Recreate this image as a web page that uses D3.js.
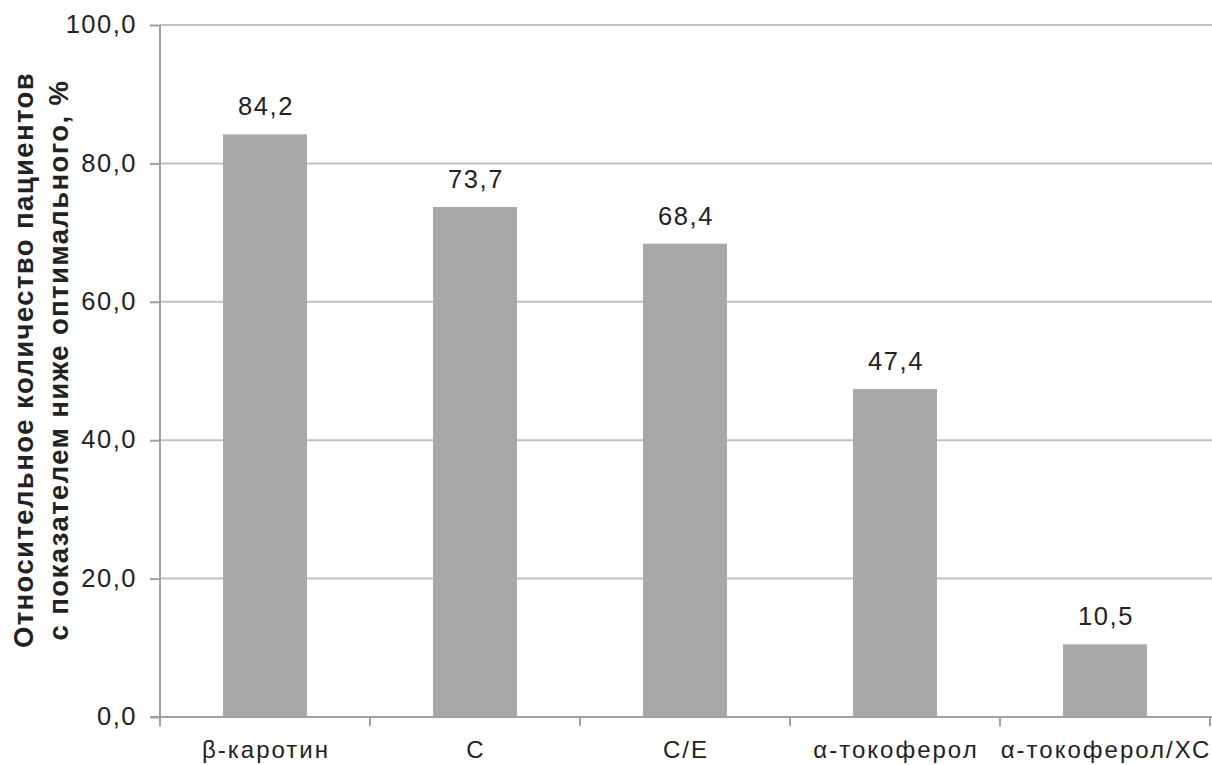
<!DOCTYPE html>
<html><head><meta charset="utf-8">
<script src="https://cdn.jsdelivr.net/npm/d3@7"></script>
<style>body{margin:0;background:#fff}svg{display:block}text{font-family:"Liberation Sans",Arial,sans-serif;fill:#222}</style>
</head><body><svg id="c" width="1212" height="765"></svg>
<script>
const categories = ["β-каротин", "C", "C/E", "α-токоферол", "α-токоферол/ХС"];
const values = [84.2, 73.7, 68.4, 47.4, 10.5];
const yTicks = [0, 20, 40, 60, 80, 100];
const yTitle1 = "Относительное количество пациентов";
const yTitle2 = "с показателем ниже оптимального, %";

(function () {
const svg = d3.select("#c");
const mL = 160, mR = 1210, mT = 25, mB = 717;
const FF = "Liberation Sans, Arial, sans-serif";
const x = d3.scaleBand().domain(categories).range([mL, mR]);
const y = d3.scaleLinear().domain([0, 100]).range([mB, mT]);
const fmt = v => v.toFixed(1).replace(".", ",");

// gridlines
svg.append("g").selectAll("line").data(yTicks.filter(d => d > 0)).join("line")
  .attr("x1", mL).attr("x2", mR + 2).attr("y1", d => y(d)).attr("y2", d => y(d))
  .attr("stroke", "#c0c0c0").attr("stroke-width", 2);

// bars
const bw = x.bandwidth() * 0.4;
svg.append("g").selectAll("rect").data(values).join("rect")
  .attr("x", (d, i) => x(categories[i]) + (x.bandwidth() - bw) / 2)
  .attr("width", bw)
  .attr("y", d => y(d)).attr("height", d => mB - y(d))
  .attr("fill", "#a8a8a8");

// value labels
svg.append("g").selectAll("text").data(values).join("text")
  .attr("x", (d, i) => x(categories[i]) + x.bandwidth() / 2 + 1)
  .attr("y", d => y(d) - 19)
  .attr("text-anchor", "middle").attr("font-size", 25.5).attr("letter-spacing", 1.6)
  .text(d => fmt(d));

// y axis
const ya = svg.append("g").attr("transform", `translate(${mL},0)`)
  .call(d3.axisLeft(y).tickValues(yTicks).tickSize(10).tickPadding(13).tickFormat(fmt));
ya.select(".domain").attr("stroke", "#a0a0a0").attr("stroke-width", 2).attr("d", `M0,${mT}V${mB}`);
ya.selectAll(".tick line").attr("stroke", "#a0a0a0").attr("stroke-width", 2);
ya.selectAll(".tick text").attr("font-size", 25.5).attr("letter-spacing", 1.5)
  .attr("font-family", FF).attr("fill", "#222").attr("dy", "0.3em");

// x axis
const xa = svg.append("g").attr("transform", `translate(0,${mB})`)
  .call(d3.axisBottom(x).tickSize(0));
xa.select(".domain").attr("stroke", "#a0a0a0").attr("stroke-width", 2).attr("d", `M${mL - 10},0H${mR + 2}`);
xa.selectAll(".tick text").attr("font-size", 24).attr("letter-spacing", 2)
  .attr("font-family", FF).attr("fill", "#222").attr("y", 41).attr("dy", 0).attr("x", 1);
const bounds = categories.map(c => x(c)).concat([mR]);
xa.append("g").selectAll("line").data(bounds).join("line")
  .attr("x1", d => d).attr("x2", d => d).attr("y1", 0).attr("y2", 9)
  .attr("stroke", "#a0a0a0").attr("stroke-width", 2);

// y title
const tg = svg.append("g").attr("transform", `translate(0,360) rotate(-90)`);
tg.append("text").attr("x", 0).attr("y", 33).attr("text-anchor", "middle")
  .attr("font-size", 27.5).attr("font-weight", "bold").attr("letter-spacing", 1.4).text(yTitle1);
tg.append("text").attr("x", 0).attr("y", 68).attr("text-anchor", "middle")
  .attr("font-size", 27.5).attr("font-weight", "bold").attr("letter-spacing", 1.4).text(yTitle2);
})();
</script></body></html>
